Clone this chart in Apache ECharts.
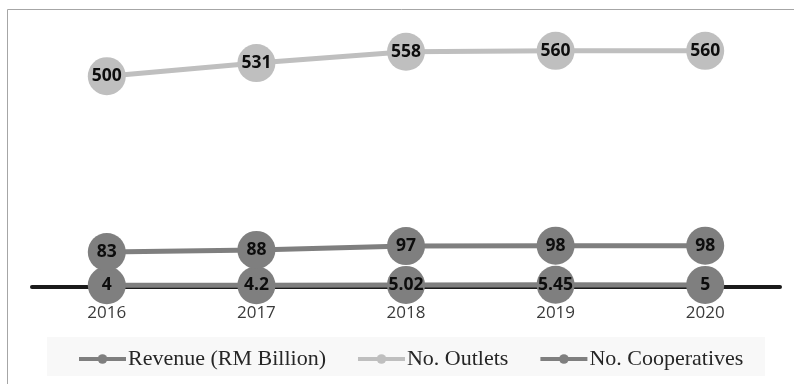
<!DOCTYPE html>
<html>
<head>
<meta charset="utf-8">
<script src="https://cdn.jsdelivr.net/npm/echarts@6/dist/echarts.min.js"></script>
<style>
  html, body { margin: 0; padding: 0; background: #fff; }
  #chart { width: 794px; height: 384px; }
</style>
</head>
<body>
<div id="chart"></div>
<script>
// Malaysian cooperative retail figures, 2016-2020
const years = ['2016', '2017', '2018', '2019', '2020'];
const revenue = [4, 4.2, 5.02, 5.45, 5];
const outlets = [500, 531, 558, 560, 560];
const cooperatives = [83, 88, 97, 98, 98];

const seriesNames = ['Revenue (RM Billion)', 'No. Outlets', 'No. Cooperatives'];
const seriesColors = ['#7f7f7f', '#bfbfbf', '#7f7f7f'];

const chart = echarts.init(document.getElementById('chart'));

function lineSeries(name, data, color) {
  return {
    name: name,
    type: 'line',
    data: data,
    symbol: 'circle',
    symbolSize: 38,
    color: color,
    lineStyle: { width: 5, color: color },
    itemStyle: { color: color },
    label: {
      show: true,
      position: 'inside',
      color: '#0d0d0d',
      fontFamily: '"Open Sans", sans-serif',
      fontWeight: 'bold',
      fontSize: 17.5
    },
    emphasis: { disabled: true },
    animation: false
  };
}

chart.setOption({
  backgroundColor: '#ffffff',
  animation: false,
  graphic: [
    {
      type: 'rect',
      shape: { x: 7.5, y: 9.5, width: 800, height: 400 },
      style: { fill: 'none', stroke: '#a6a6a6', lineWidth: 1 },
      z: -10
    },
    {
      type: 'rect',
      shape: { x: 47, y: 337, width: 718, height: 39 },
      style: { fill: '#f8f8f8' },
      z: -9
    }
  ],
  grid: { left: 32, right: 14, top: 34, bottom: 97, containLabel: false },
  xAxis: {
    type: 'category',
    data: years,
    boundaryGap: true,
    axisLine: { show: true, lineStyle: { color: '#1a1a1a', width: 4 } },
    axisTick: { show: false },
    axisLabel: {
      color: '#3a3a3a',
      fontFamily: '"Open Sans", sans-serif',
      fontSize: 17,
      margin: 18
    }
  },
  yAxis: {
    type: 'value',
    min: 0,
    max: 600,
    show: false,
    splitLine: { show: false }
  },
  legend: {
    data: seriesNames,
    left: 72,
    top: 343,
    itemWidth: 47,
    itemHeight: 12,
    itemGap: 30,
    lineStyle: { width: 4 },
    textStyle: {
      fontFamily: '"Liberation Serif", "Times New Roman", serif',
      fontSize: 22,
      color: '#262626',
      padding: [0, 0, 0, -3]
    }
  },
  series: [
    lineSeries(seriesNames[0], revenue, seriesColors[0]),
    lineSeries(seriesNames[1], outlets, seriesColors[1]),
    lineSeries(seriesNames[2], cooperatives, seriesColors[2])
  ]
});
</script>
</body>
</html>
